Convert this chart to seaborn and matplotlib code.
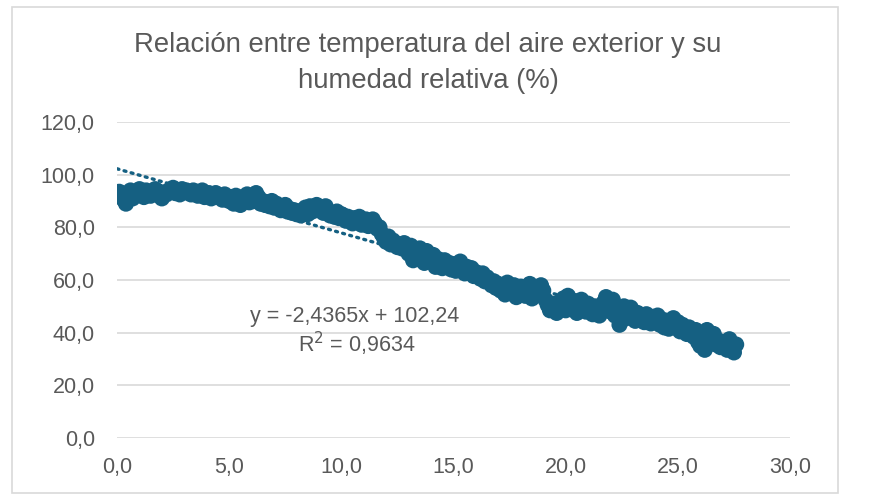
import numpy as np
import pandas as pd
import matplotlib
matplotlib.use("Agg")
import matplotlib.pyplot as plt
from matplotlib.patches import Rectangle
import seaborn as sns

# ---------------- data ----------------
temp = [
    0.0, 0.1, 0.2, 0.3, 0.4, 0.5, 0.6, 0.7, 0.8, 0.9, 1.0, 1.1, 1.2, 1.3, 1.4, 1.5, 1.6, 1.7, 1.8, 1.9,
    2.0, 2.1, 2.2, 2.3, 2.4, 2.5, 2.6, 2.7, 2.8, 2.9, 3.0,
    3.1, 3.2, 3.3, 3.4, 3.5, 3.6, 3.7, 3.8, 3.9, 4.0, 4.1, 4.2, 4.3, 4.4, 4.5, 4.6, 4.7, 4.8, 4.9,
    5.0, 5.1, 5.2, 5.3, 5.4, 5.5, 5.6, 5.7, 5.8, 5.9, 6.0, 6.1, 6.2, 6.3, 6.4,
    6.5, 6.6, 6.7, 6.8, 6.9, 7.0, 7.1, 7.2, 7.3, 7.4, 7.5, 7.6, 7.7, 7.8, 7.9, 8.0, 8.1, 8.2, 8.3, 8.4,
    8.5, 8.6, 8.7, 8.8, 8.9, 9.0, 9.1, 9.2, 9.3, 9.4, 9.5,
    9.6, 9.7, 9.8, 9.9, 10.0, 10.1, 10.2, 10.3, 10.4, 10.5, 10.6, 10.7, 10.8, 10.9, 11.0, 11.1, 11.2,
    11.3, 11.4, 11.5, 11.6, 11.7,
    11.8, 11.9, 12.0, 12.1, 12.2, 12.3, 12.4, 12.5, 12.6, 12.7, 12.8, 12.9, 13.0, 13.1, 13.2, 13.3, 13.4,
    13.5, 13.6, 13.7, 13.8, 13.9, 14.0, 14.1, 14.2, 14.3, 14.4, 14.5,
    14.6, 14.7, 14.8, 14.9, 15.0, 15.1, 15.2, 15.3, 15.4, 15.5, 15.6, 15.7, 15.8, 15.9, 16.0, 16.1, 16.2,
    16.3, 16.4, 16.5, 16.6, 16.7, 16.8, 16.9, 17.0,
    17.1, 17.2, 17.3, 17.4, 17.5, 17.6, 17.7, 17.8, 17.9, 18.0, 18.1, 18.2, 18.3, 18.4, 18.5, 18.6, 18.7,
    18.8, 18.9, 19.0, 19.1,
    19.2, 19.3, 19.4, 19.5, 19.6, 19.7, 19.8, 19.9, 20.0, 20.1, 20.2, 20.3, 20.4, 20.5, 20.6, 20.7, 20.8,
    20.9, 21.0, 21.1, 21.2, 21.3, 21.4, 21.5,
    21.6, 21.7, 21.8, 21.9, 22.0, 22.1, 22.2, 22.3, 22.4, 22.5, 22.6, 22.7, 22.8, 22.9, 23.0, 23.1, 23.2,
    23.3, 23.4, 23.5, 23.6, 23.7, 23.8, 23.9, 24.0,
    24.1, 24.2, 24.3, 24.4, 24.5, 24.6, 24.7, 24.8, 24.9, 25.0, 25.1, 25.2, 25.3, 25.4, 25.5, 25.6, 25.7,
    25.8, 25.9, 26.0, 26.1, 26.2, 26.3, 26.4, 26.5, 26.6, 26.7, 26.8, 26.9, 27.0, 27.1, 27.2, 27.3, 27.4,
    27.5, 27.6,
]
humidity = [
    92.0, 93.5, 91.5, 90.5, 89.0, 92.5, 94.0, 91.0, 93.0, 92.5, 94.5, 93.0, 91.5, 94.0, 93.5, 92.0, 93.0, 94.5, 92.5, 93.5,
    91.0, 93.0, 92.5, 94.0, 93.5, 95.0, 93.0, 94.0, 92.5, 94.5, 93.5,
    94.0, 93.0, 92.5, 94.0, 93.5, 92.0, 93.0, 94.0, 91.5, 92.5, 93.0, 91.0, 92.5, 93.0, 91.5, 92.0, 90.5, 92.5, 91.0,
    90.0, 91.5, 89.0, 92.0, 90.5, 88.5, 91.0, 90.0, 92.5, 89.5, 91.0, 90.0, 93.0, 91.5, 89.0,
    90.0, 88.5, 89.5, 88.0, 90.0, 87.5, 89.0, 88.0, 86.5, 87.0, 88.5, 86.0, 87.0, 85.5, 86.5, 85.0, 86.0, 84.5, 86.5, 87.5,
    85.0, 88.0, 86.0, 87.5, 88.5, 86.5, 87.0, 85.5, 88.0, 86.0, 84.5,
    85.5, 84.0, 86.0, 83.5, 85.0, 84.5, 82.5, 84.0, 83.0, 81.5, 83.5, 82.0, 84.0, 81.0, 82.5, 83.0, 80.5,
    82.0, 83.0, 81.5, 79.5, 80.0,
    77.5, 76.0, 74.5, 76.5, 73.5, 75.0, 74.0, 72.5, 73.5, 72.0, 74.0, 71.5, 70.0, 73.0, 67.5, 71.5, 70.0,
    72.0, 69.0, 66.5, 71.0, 68.5, 67.0, 69.5, 65.0, 68.0, 66.5, 64.5,
    67.5, 65.0, 66.5, 64.0, 66.0, 63.5, 65.5, 67.0, 64.5, 62.5, 65.0, 63.0, 64.5, 61.5, 63.0, 62.0, 60.5,
    62.5, 59.5, 61.0, 60.0, 58.0, 59.5, 57.0, 58.5,
    56.0, 57.5, 54.5, 59.0, 56.5, 55.0, 58.0, 53.5, 56.0, 57.5, 55.0, 54.0, 56.5, 58.5, 53.0, 55.5, 57.0,
    54.5, 58.0, 56.0, 52.5,
    50.5, 48.5, 51.0, 49.0, 47.5, 51.5, 50.0, 53.0, 48.5, 54.0, 50.5, 49.0, 52.0, 47.5, 50.5, 52.5, 49.5,
    48.0, 51.0, 49.5, 47.0, 50.0, 48.5, 46.5,
    49.0, 51.5, 53.5, 50.0, 48.0, 52.5, 46.5, 49.0, 43.0, 47.5, 50.0, 45.5, 47.0, 49.5, 46.0, 44.5, 47.5,
    45.0, 46.5, 44.0, 47.0, 45.5, 43.5, 46.0, 44.5,
    46.5, 43.0, 45.0, 42.0, 44.5, 41.5, 43.5, 45.5, 42.0, 44.0, 40.5, 43.0, 41.5, 39.5, 42.0, 40.0, 38.5,
    41.0, 36.5, 35.0, 38.0, 33.5, 41.0, 37.5, 36.0, 39.5, 35.5, 37.0, 34.5, 36.5, 35.0, 33.5, 37.5, 34.0,
    32.5, 35.5,
]
trend_slope = -2.4365
trend_intercept = 102.24
trend_r2 = 0.9634
x_ticks = [0, 5, 10, 15, 20, 25, 30]
y_ticks = [0, 20, 40, 60, 80, 100, 120]
title = "Relación entre temperatura del aire exterior y su\nhumedad relativa (%)"
eq_text = "y = -2,4365x + 102,24"
r2_text = "R$^2$ = 0,9634"

# ---------------- styling ----------------
sns.set_theme(style="white")
plt.rcParams["font.family"] = ["Liberation Sans", "DejaVu Sans"]
BLUE = "#156082"
GREY_TXT = "#595959"
GRID = "#d9d9d9"

fig = plt.figure(figsize=(8.75, 5.0), dpi=100)
ax = fig.add_axes([117 / 875, 1 - 438 / 500, (790 - 117) / 875, (438 - 122) / 500])

df = pd.DataFrame({"temp": temp, "hum": humidity})
sns.scatterplot(data=df, x="temp", y="hum", ax=ax, color=BLUE, s=135,
                edgecolor="none", linewidth=0, zorder=3, legend=False)

x_end = max(temp)
trend_df = pd.DataFrame({"x": [0.0, x_end],
                         "y": [trend_intercept, trend_intercept + trend_slope * x_end]})
sns.lineplot(data=trend_df, x="x", y="y", ax=ax, color=BLUE, linewidth=2.4,
             linestyle=(0, (0.6, 1.6)), dash_capstyle="round", zorder=4, legend=False)

ax.set_xlim(0, 30)
ax.set_ylim(0, 120)
ax.set_xticks(x_ticks)
ax.set_yticks(y_ticks)
ax.set_xticklabels([f"{v:.1f}".replace(".", ",") for v in x_ticks])
ax.set_yticklabels([f"{v:.1f}".replace(".", ",") for v in y_ticks])
ax.tick_params(axis="both", length=0, labelsize=15.5, colors=GREY_TXT)
ax.tick_params(axis="x", pad=14)
ax.tick_params(axis="y", pad=16)
ax.set_xlabel("")
ax.set_ylabel("")
ax.grid(axis="y", color=GRID, linewidth=1.2, zorder=0)
ax.grid(axis="x", visible=False)
for sp in ax.spines.values():
    sp.set_visible(False)
ax.set_axisbelow(True)

ax.text(10.6, 46.3, eq_text, ha="center", va="center", fontsize=15.5, color=GREY_TXT)
ax.text(10.7, 35.7, r2_text, ha="center", va="center", fontsize=15.5, color=GREY_TXT)

fig.text(428 / 875, 1 - 32 / 500, title, ha="center", va="top", fontsize=19.8,
         color=GREY_TXT, linespacing=1.5, fontstretch="condensed")

fig.patches.append(Rectangle((12 / 875, 7 / 500), (838 - 12) / 875, (493 - 7) / 500,
                             transform=fig.transFigure, fill=False,
                             edgecolor=GRID, linewidth=1.2))

fig.savefig("out.png", dpi=100, facecolor="white")
